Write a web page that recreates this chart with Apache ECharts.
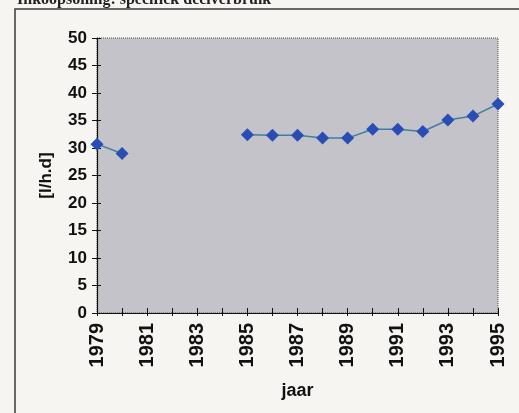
<!DOCTYPE html>
<html>
<head>
<meta charset="utf-8">
<script src="https://cdn.jsdelivr.net/npm/echarts@6/dist/echarts.min.js"></script>
<style>
html,body{margin:0;padding:0;background:#f6f5f2;}
#c{width:519px;height:413px;}
</style>
</head>
<body>
<div id="c"></div>
<script>
var years = ['1979','1980','1981','1982','1983','1984','1985','1986','1987','1988','1989','1990','1991','1992','1993','1994','1995'];
var values = [30.7, 29.0, null, null, null, null, 32.4, 32.3, 32.3, 31.8, 31.8, 33.4, 33.4, 33.0, 35.1, 35.8, 38.0];
var yTicks = [0, 5, 10, 15, 20, 25, 30, 35, 40, 45, 50];
var headerText = 'Inkoopsoning: specifiek deelverbruik';
var yTitle = '[l/h.d]';
var xTitle = 'jaar';

var chart = echarts.init(document.getElementById('c'), null, {renderer: 'canvas'});
var font = 'Liberation Sans, Arial, sans-serif';
chart.setOption({
  backgroundColor: '#f6f5f2',
  animation: false,
  graphic: [
    {type: 'rect', shape: {x: 15, y: 9, width: 530, height: 420}, style: {fill: 'none', stroke: '#3a3a3a', lineWidth: 1.5}, z: 0},
    {type: 'text', left: 17, top: -8, style: {text: headerText, font: 'bold 16px "Liberation Serif", serif', fill: '#222'}}
  ],
  grid: {left: 97, right: 21, top: 38, bottom: 100, show: true, backgroundColor: '#c3c3c9', borderColor: '#555', borderWidth: 1, borderType: 'dotted'},
  xAxis: [{
    type: 'category', data: years, boundaryGap: false,
    axisLine: {lineStyle: {color: '#111', width: 1.2}},
    axisTick: {interval: 0, length: 3, lineStyle: {color: '#111'}},
    axisLabel: {interval: 1, rotate: 90, margin: 10, color: '#111', fontSize: 20, fontWeight: 'bold', fontFamily: font},
    name: xTitle, nameLocation: 'middle', nameGap: 69,
    nameTextStyle: {color: '#111', fontSize: 18, fontWeight: 'bold', fontFamily: font}
  }, {
    type: 'category', data: years, boundaryGap: false, position: 'bottom',
    axisLine: {show: false},
    axisTick: {inside: true, interval: 0, length: 5, lineStyle: {color: '#111'}},
    axisLabel: {show: false}
  }],
  yAxis: [{
    type: 'value', min: yTicks[0], max: yTicks[yTicks.length - 1], interval: 5,
    axisLine: {show: true, lineStyle: {color: '#111', width: 1.2}},
    axisTick: {show: true, length: 5, lineStyle: {color: '#111'}},
    splitLine: {show: false},
    axisLabel: {margin: 10, color: '#111', fontSize: 17, fontWeight: 'bold', fontFamily: font},
    name: yTitle, nameLocation: 'middle', nameGap: 42, nameRotate: 90,
    nameTextStyle: {color: '#111', fontSize: 17, fontWeight: 'bold', fontFamily: font}
  }, {
    type: 'value', min: yTicks[0], max: yTicks[yTicks.length - 1], interval: 5, position: 'left',
    axisLine: {show: false},
    axisTick: {show: true, inside: true, length: 4, lineStyle: {color: '#111'}},
    splitLine: {show: false},
    axisLabel: {show: false}
  }],
  series: [{
    type: 'line', data: values, connectNulls: false,
    symbol: 'diamond', symbolSize: 13,
    itemStyle: {color: '#2a4db5'},
    lineStyle: {color: '#3f7f9f', width: 1.5}
  }]
});
</script>
</body>
</html>
